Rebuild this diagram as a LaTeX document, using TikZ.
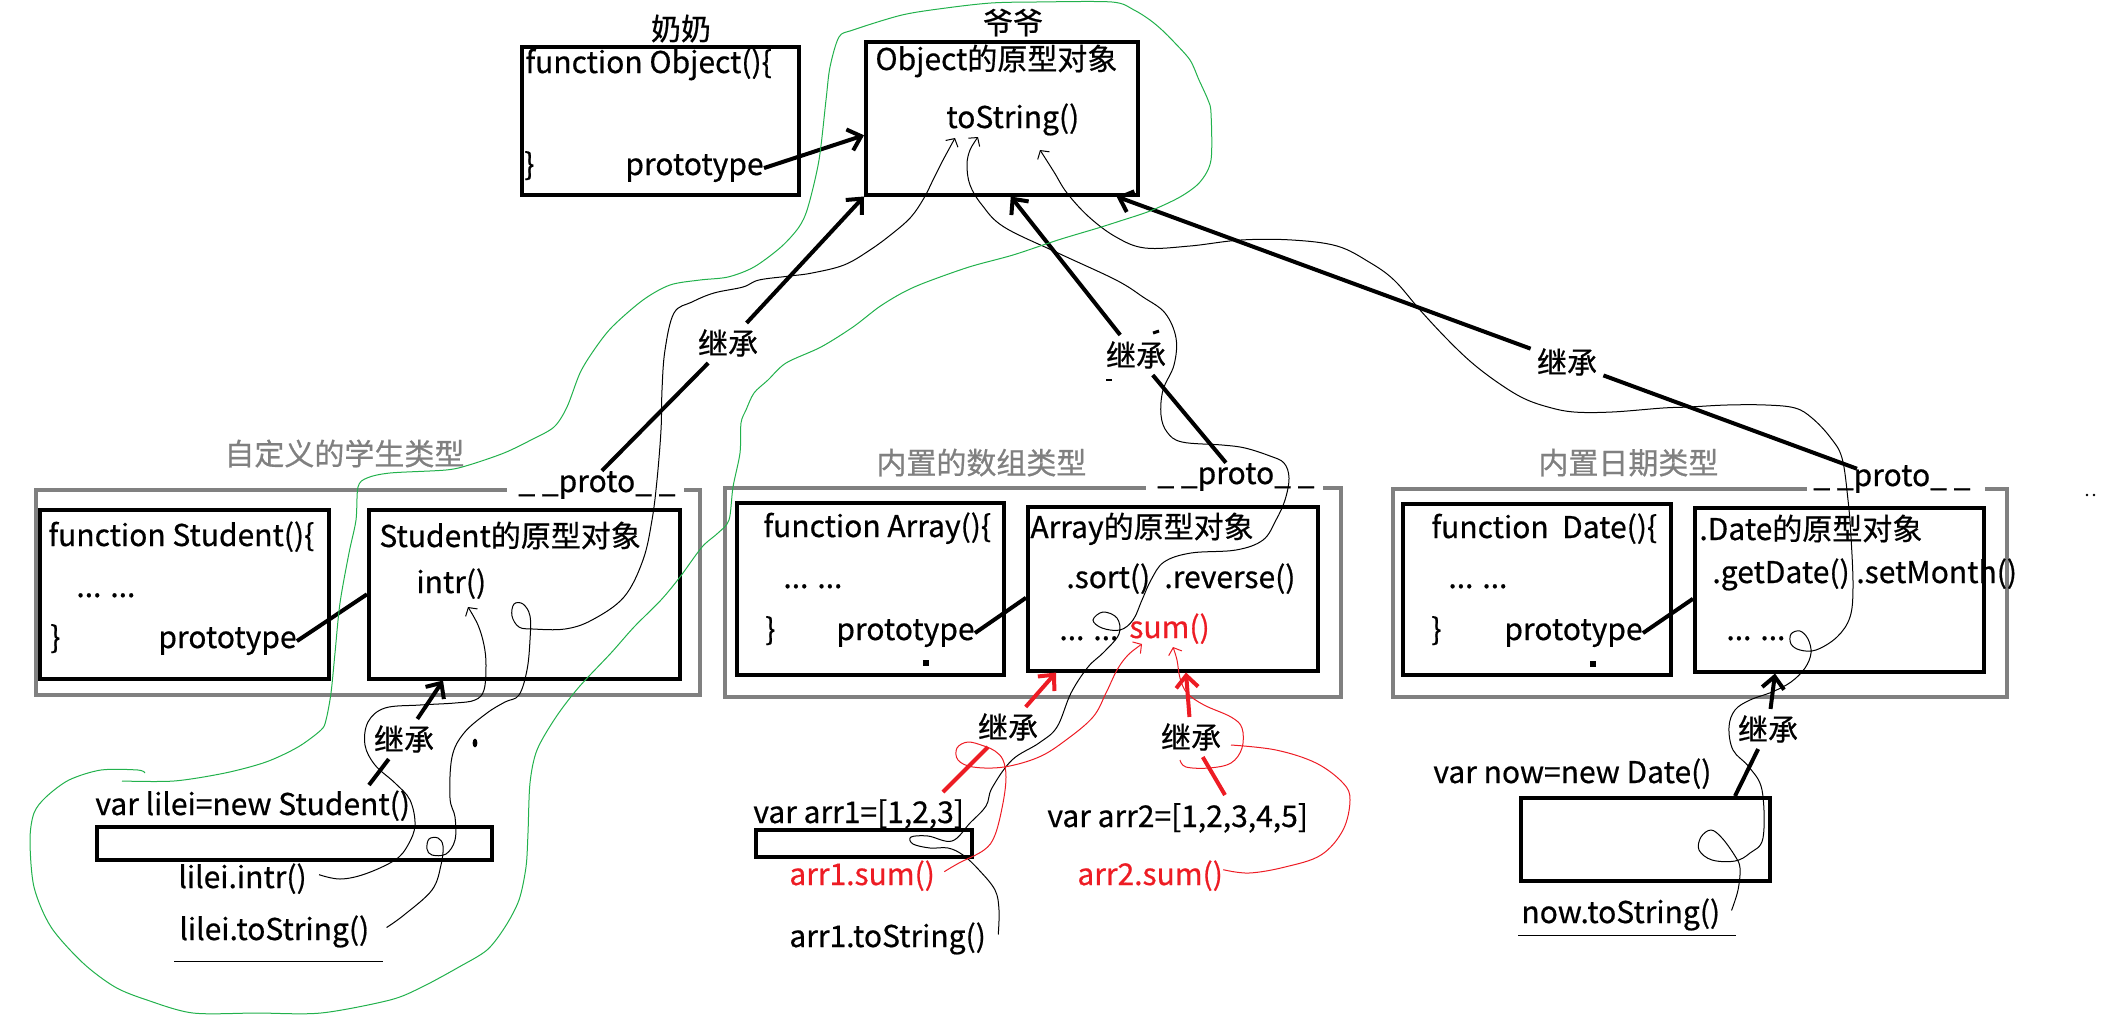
\documentclass[tikz,border=0pt]{standalone}
\usepackage{fontspec}
\setmainfont{Noto Sans CJK SC}[FakeBold=0.6]
\usetikzlibrary{arrows.meta,calc}
\definecolor{pgreen}{HTML}{22B14C}
\definecolor{pred}{HTML}{ED1C24}
\definecolor{pgray}{HTML}{808080}

\begin{document}
\begin{tikzpicture}[x=0.5pt,y=-0.5pt,
  every node/.style={font=\fontsize{15}{18}\selectfont, inner sep=0pt},
  box/.style={draw, line width=1.75pt, anchor=north west},
  frame/.style={draw=pgray, line width=1.75pt},
  txt/.style={anchor=base west},
  caption/.style={anchor=base west, text=pgray},
  jc/.style={inner sep=3pt},
  link/.style={line width=2pt},
  inherit/.style={line width=2pt, -{Straight Barb[length=6pt,width=11pt]}},
  trail/.style={line width=0.5pt, -{Straight Barb[length=3pt,width=7pt]}},
  lasso/.style={draw=pgreen, line width=0.5pt}
]
\useasboundingbox (0,0) rectangle (2104,1024);

% ---------- Object ----------
\node[box, minimum width=138.5pt, minimum height=74pt] (objfun) at (520,45) {};
\node[box, minimum width=136pt, minimum height=76.5pt] (objproto) at (864,40) {};
\node[anchor=base] (nainai) at (681,40) {奶奶};
\node[anchor=base] (yeye) at (1013,34) {爷爷};
\node[txt] (objfunname) at (525,73) {function Object()\{};
\node[txt] (objbrace) at (524,175) {\}};
\node[txt] (optype) at (625,175) {prototype};
\node[txt] (objtitle) at (875,70) {Object的原型对象};
\node[txt] (otostr) at (946,128) {toString()};
\draw[inherit] (optype.east) -- ($(objproto.west)+(0,17)$);

% ---------- Student ----------
\draw[frame] (684,490) -- (700,490) -- (700,695) -- (36,695) -- (36,490) -- (507,490);
\node[caption] (stucap) at (224,465) {自定义的学生类型};
\node[txt] (sproto) at (518,492) {\_ \_proto\_ \_};
\node[box, minimum width=144.5pt, minimum height=84.5pt] (stufun) at (38,508) {};
\node[box, minimum width=155.5pt, minimum height=84.5pt] (stuproto) at (367,508) {};
\node[txt] (stufunname) at (48,546) {function Student()\{};
\node[txt] (stubody) at (76,597) {... ...};
\node[txt] (stubrace) at (50,648) {\}};
\node[txt] (sptype) at (158,648) {prototype};
\node[txt] (stutitle) at (379,547) {Student的原型对象};
\node[txt] (sintr) at (416,593) {intr()};
\draw[link] (sptype.east) -- (stuproto.west);

% ---------- Array ----------
\draw[frame] (1323,488) -- (1341,488) -- (1341,697) -- (725,697) -- (725,488) -- (1146,488);
\node[caption] (arrcap) at (876,474) {内置的数组类型};
\node[txt] (aproto) at (1157,484) {\_ \_proto\_ \_};
\node[box, minimum width=133.5pt, minimum height=86pt] (arrfun) at (735,501) {};
\node[box, minimum width=145pt, minimum height=82pt] (arrproto) at (1026,505) {};
\node[txt] (arrfunname) at (763,537) {function Array()\{};
\node[txt] (arrbody) at (783,588) {... ...};
\node[txt] (arrbrace) at (765,640) {\}};
\node[txt] (aptype) at (836,640) {prototype};
\node[txt] (arrtitle) at (1030,538) {Array的原型对象};
\node[txt] (asort) at (1066,588) {.sort()};
\node[txt] (arev) at (1164,588) {.reverse()};
\node[txt] (amore) at (1059,640) {... ...};
\node[txt, text=pred] (asum) at (1129,638) {sum()};
\fill (923,660) rectangle (929,666);
\draw[link] (aptype.east) -- ($(arrproto.west)+(0,9)$);

% ---------- Date ----------
\draw[frame] (1985,489) -- (2007,489) -- (2007,697) -- (1393,697) -- (1393,489) -- (1807,489);
\node[caption] (datecap) at (1538,474) {内置日期类型};
\node[txt] (dproto) at (1813,486) {\_ \_proto\_ \_};
\node[box, minimum width=134pt, minimum height=85.5pt] (datefun) at (1401,502) {};
\node[box, minimum width=144.5pt, minimum height=82pt] (dateproto) at (1693,506) {};
\node[txt] (datefunname) at (1431,538) {function\ \ Date()\{};
\node[txt] (datebody) at (1448,588) {... ...};
\node[txt] (datebrace) at (1431,640) {\}};
\node[txt] (dptype) at (1504,640) {prototype};
\node[txt] (datetitle) at (1699,540) {.Date的原型对象};
\node[txt] (dmeth) at (1712,583) {.getDate() .setMonth()};
\node[txt] (dmore) at (1726,640) {... ...};
\fill (1590,661) rectangle (1596,667);
\fill (2087,495) circle (0.7pt) (2094,495) circle (0.7pt);
\draw[link] (dptype.east) -- ($(dateproto.west)+(0,9)$);

% ---------- inheritance up to Object ----------
\node[jc] (jcs) at (728,343) {继承};
\node[jc] (jca) at (1136,355) {继承};
\node[jc] (jcd) at (1567,362) {继承};
\draw[link] ($(sproto.north)+(5,0)$) -- (jcs);
\draw[inherit] (jcs) -- (objproto.south west);
\draw[link] ($(aproto.north)+(-10,0)$) -- (jca);
\draw[inherit] (jca) -- ($(objproto.south)+(9,0)$);
\draw[link] ($(dproto.north)+(-35,4)$) -- (jcd);
\draw[inherit] (jcd) -- ($(objproto.south east)+(-23,0)$);
\draw[line width=1.5pt] (1153,333) -- (1159,331);
\draw[line width=1pt] (1106,380) -- (1112,380);

% ---------- instances ----------
\node[txt] (lvar) at (95,815) {var lilei=new Student()};
\node[box, minimum width=197.5pt, minimum height=16.5pt] (lbox) at (95,825) {};
\node[txt] (lintr) at (178,888) {lilei.intr()};
\node[txt] (ltostr) at (179,940) {lilei.toString()};
\draw[line width=0.5pt] (174,961) -- (383,961);
\fill (475,743) ellipse [x radius=1.2pt, y radius=2.2pt];

\node[txt] (a1var) at (753,823) {var arr1=[1,2,3]};
\node[box, minimum width=108pt, minimum height=13.5pt] (a1box) at (754,828) {};
\node[txt, text=pred] (a1sum) at (789,885) {arr1.sum()};
\node[txt] (a1tostr) at (789,947) {arr1.toString()};
\node[txt] (a2var) at (1047,827) {var arr2=[1,2,3,4,5]};
\node[txt, text=pred] (a2sum) at (1077,885) {arr2.sum()};

\node[txt] (nvar) at (1433,783) {var now=new Date()};
\node[box, minimum width=124.5pt, minimum height=41.5pt] (nbox) at (1519,796) {};
\node[txt] (ntostr) at (1521,923) {now.toString()};
\draw[line width=0.5pt] (1518,935) -- (1736,935);

\coordinate (ltail) at (369,785);
\coordinate (r1tail) at (943,792);
\coordinate (r2tail) at (1225,795);
\coordinate (dtail) at ($(nbox.north west)+(216,0)$);
\node[jc] (jcl) at (404,739) {继承};
\node[jc] (jcr1) at (1008,727) {继承};
\node[jc] (jcr2) at (1191,737) {继承};
\node[jc] (jcn) at (1768,729) {继承};
\draw[link] (ltail) -- (jcl);
\draw[inherit] (jcl) -- ($(stuproto.south west)+(76,0)$);
\draw[link, draw=pred] (r1tail) -- (jcr1);
\draw[inherit, draw=pred] (jcr1) -- ($(arrproto.south west)+(30,0)$);
\draw[link, draw=pred] (r2tail) -- (jcr2);
\draw[inherit, draw=pred] (jcr2) -- ($(arrproto.south west)+(160,0)$);
\draw[link] (dtail) -- (jcn);
\draw[inherit] (jcn) -- ($(dateproto.south west)+(82,0)$);

% ---------- lookup trails ----------
\coordinate (ta0) at ($(lintr.east)+(12,-4)$);
\draw[trail] plot[smooth, tension=0.6] coordinates {(ta0) (340,879) (365,874) (395,860) (408,845) (415,825) (410,800) (395,783) (375,765) (365,745) (368,722) (385,708) (420,705) (455,703) (475,700) (484,690) (486,665) (484,645) (478,625) (468,607)};

\coordinate (tb0) at ($(ltostr.east)+(17,-4)$);
\draw[trail] plot[smooth, tension=0.6] coordinates {(tb0) (404,915) (432,890) (441,865) (443,846) (438,838) (429,839) (427,849) (432,855) (446,854) (455,840) (455,817) (450,798) (452,757) (464,733) (487,713) (505,702) (519,695) (527,670) (530,640) (530,616) (523,604) (514,604) (512,616) (519,627) (533,629) (565,629) (592,620) (624,597) (643,560) (652,520) (657,480) (661,430) (662,390) (665,350) (674,313) (692,302) (714,293) (743,287) (759,280) (790,276) (812,273) (844,265) (870,250) (893,233) (911,217) (924,198) (933,180) (942,162) (955,138)};

\coordinate (tc0) at ($(a1tostr.east)+(12,-4)$);
\draw[trail] plot[smooth, tension=0.6] coordinates {(tc0) (999,910) (995,890) (979,870) (963,855) (948,848) (930,848) (913,844) (911,837) (928,836) (952,841) (970,823) (986,806) (992,788) (1012,760) (1039,743) (1057,727) (1071,693) (1088,667) (1104,652) (1119,634) (1117,618) (1103,612) (1093,620) (1102,628) (1120,630) (1133,620) (1142,600) (1151,580) (1164,562) (1191,553) (1236,550) (1263,540) (1276,520) (1285,500) (1289,478) (1284,463) (1270,456) (1245,448) (1222,445) (1182,442) (1167,432) (1161,415) (1163,390) (1174,365) (1176,338) (1165,313) (1143,297) (1116,280) (1058,253) (1004,227) (982,205) (970,185) (967,165) (970,150) (978,137)};

\coordinate (td0) at ($(ntostr.east)+(11,-4)$);
\draw[trail] plot[smooth, tension=0.6] coordinates {(td0) (1738,890) (1740,868) (1735,856) (1722,838) (1711,830) (1701,837) (1699,850) (1712,860) (1735,861) (1750,853) (1763,838) (1762,790) (1749,767) (1733,750) (1729,727) (1735,710) (1750,700) (1772,692) (1791,682) (1805,668) (1811,653) (1808,639) (1800,631) (1791,634) (1791,644) (1800,650) (1816,650) (1837,637) (1850,617) (1853,587) (1851,537) (1848,500) (1842,458) (1830,437) (1812,418) (1795,408) (1766,405) (1727,405) (1689,407) (1663,408) (1612,412) (1574,412) (1548,407) (1523,398) (1497,382) (1471,362) (1446,338) (1420,310) (1394,280) (1369,262) (1337,246) (1292,240) (1241,240) (1190,246) (1145,248) (1116,237) (1089,217) (1067,193) (1054,172) (1040,150)};

\coordinate (te0) at ($(a1sum.east)+(9,-4)$);
\draw[trail, draw=pred] plot[smooth, tension=0.6] coordinates {(te0) (959,863) (984,850) (995,835) (1003,803) (1006,777) (1003,760) (995,751) (984,746) (968,742) (957,748) (958,760) (973,767) (1004,767) (1039,757) (1066,740) (1093,717) (1106,693) (1117,670) (1128,655) (1142,644)};

\coordinate (tf0) at ($(a2sum.east)+(0,-6)$);
\draw[line width=0.5pt, draw=pred] plot[smooth, tension=0.6] coordinates {(tf0) (1249,873) (1285,867) (1321,855) (1343,830) (1350,800) (1343,783) (1316,763) (1276,750) (1231,745)};
\draw[trail, draw=pred] plot[smooth, tension=0.6] coordinates {(1180,760) (1186,767) (1209,768) (1231,763) (1242,748) (1242,728) (1231,717) (1204,705) (1187,693) (1180,678) (1177,660) (1173,647)};

% ---------- green lasso ----------
\draw[lasso] plot[smooth, tension=0.5] coordinates {(145,773) (138,770) (101,770) (69,780) (46,797) (34,813) (30,840) (34,887) (51,927) (83,963) (115,987) (147,1000) (193,1013) (257,1013) (321,1013) (390,1000) (422,987) (459,967) (487,950) (505,927) (519,900) (526,867) (528,833) (530,783) (537,750) (556,717) (579,687) (611,653) (634,627) (661,600) (680,577) (702,547) (718,533) (729,520) (733,487) (740,453) (741,423) (746,410) (754,393) (768,380) (786,363) (821,347) (853,327) (879,307) (902,293) (924,283) (969,267) (1013,255) (1058,240) (1098,228) (1120,221) (1150,211) (1180,197) (1200,182) (1211,160) (1211,113) (1208,100) (1199,80) (1190,60) (1174,42) (1162,30) (1150,20) (1134,10) (1112,2) (1036,2) (991,3) (946,8) (902,15) (853,30) (839,37) (830,67) (826,100) (819,160) (808,207) (799,227) (781,247) (754,267) (728,277) (700,280) (670,285) (643,300) (612,327) (594,350) (580,373) (567,407) (554,427) (531,440) (504,453) (469,465) (446,470) (390,473) (367,478) (358,487) (356,520) (349,553) (340,603) (335,653) (331,693) (326,720) (321,730) (298,747) (266,762) (225,773) (174,781) (122,781)};

\end{tikzpicture}
\end{document}
